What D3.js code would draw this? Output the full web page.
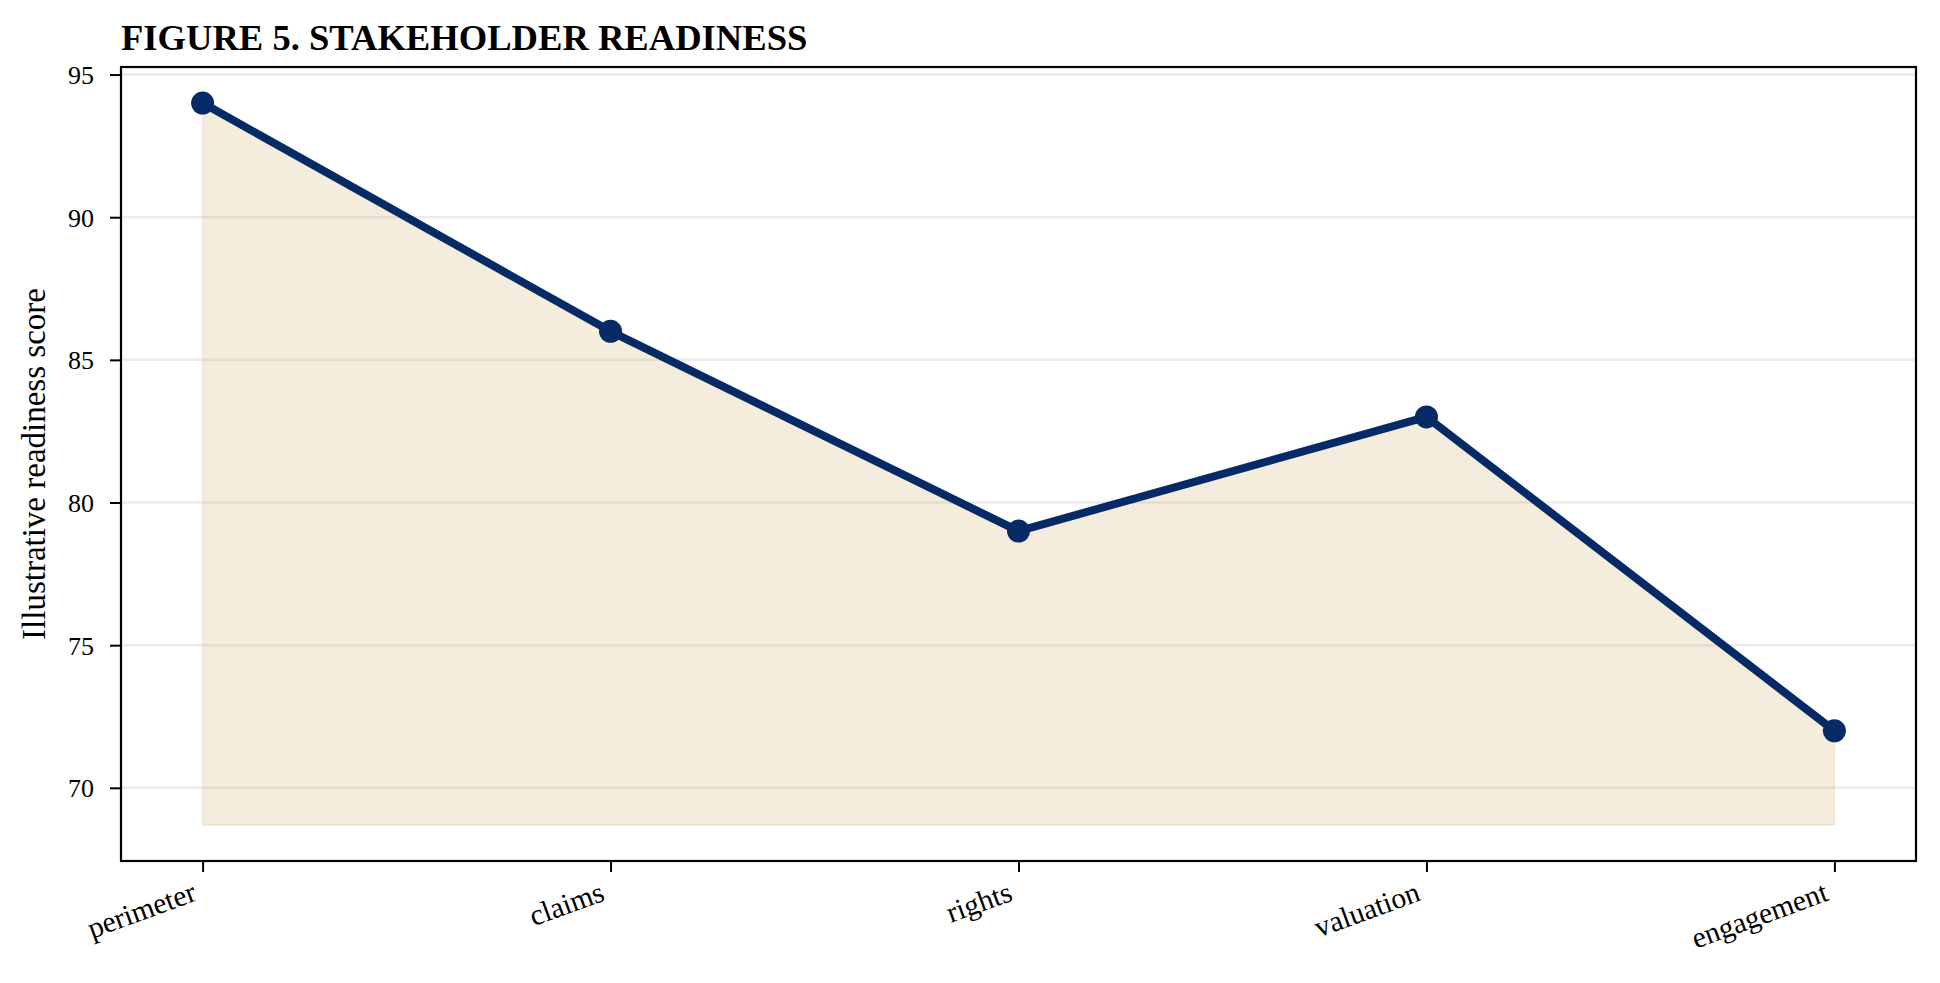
<!DOCTYPE html>
<html>
<head>
<meta charset="utf-8">
<script src="https://cdn.jsdelivr.net/npm/d3@7"></script>
<style>
  body { margin: 0; background: #ffffff; }
</style>
</head>
<body>
<svg id="chart"></svg>
<script>
// Data
const categories = ["perimeter", "claims", "rights", "valuation", "engagement"];
const scores = [94, 86, 79, 83, 72];
const yTicks = [70, 75, 80, 85, 90, 95];
const fillBase = 68.7;
const titleText = "FIGURE 5. STAKEHOLDER READINESS";
const yLabelText = "Illustrative readiness score";

// Specify the chart's dimensions.
const width = 1940;
const height = 983;
const margin = { top: 67, right: 24, bottom: 122, left: 121 };
const fontFamily = "Liberation Serif, Times New Roman, serif";

const lineColor = "#062a66";
const fillColor = "#c9a55c";

const svg = d3
  .select("#chart")
  .attr("width", width)
  .attr("height", height)
  .style("font-family", fontFamily);

// Scales (matplotlib-like margins)
const x = d3
  .scalePoint()
  .domain(categories)
  .range([margin.left, width - margin.right])
  .padding(0.2);

const yMin = fillBase;
const yMax = d3.max(scores);
const pad = (yMax - yMin) * 0.05;
const y = d3
  .scaleLinear()
  .domain([yMin - pad, yMax + pad])
  .range([height - margin.bottom, margin.top]);

// Grid lines
svg
  .append("g")
  .selectAll("line")
  .data(yTicks)
  .join("line")
  .attr("x1", margin.left)
  .attr("x2", width - margin.right)
  .attr("y1", (d) => y(d))
  .attr("y2", (d) => y(d))
  .attr("stroke", "#ebebeb")
  .attr("stroke-width", 2.5);

// Area under the line
const area = d3
  .area()
  .x((d, i) => x(categories[i]))
  .y0(y(fillBase))
  .y1((d) => y(d));

svg
  .append("path")
  .datum(scores)
  .attr("d", area)
  .attr("fill", fillColor)
  .attr("fill-opacity", 0.2)
  .attr("stroke", fillColor)
  .attr("stroke-opacity", 0.15)
  .attr("stroke-width", 2);

// Line
const line = d3
  .line()
  .x((d, i) => x(categories[i]))
  .y((d) => y(d));

svg
  .append("path")
  .datum(scores)
  .attr("d", line)
  .attr("fill", "none")
  .attr("stroke", lineColor)
  .attr("stroke-width", 8)
  .attr("stroke-linejoin", "round");

// Markers
svg
  .append("g")
  .selectAll("circle")
  .data(scores)
  .join("circle")
  .attr("cx", (d, i) => x(categories[i]))
  .attr("cy", (d) => y(d))
  .attr("r", 11.5)
  .attr("fill", lineColor);

// Axes
const yAxis = svg
  .append("g")
  .attr("transform", `translate(${margin.left},0)`)
  .call(d3.axisLeft(y).tickValues(yTicks).tickSize(11).tickPadding(16));

const xAxis = svg
  .append("g")
  .attr("transform", `translate(0,${height - margin.bottom})`)
  .call(d3.axisBottom(x).tickSize(11).tickPadding(10));

[yAxis, xAxis].forEach((ax) => {
  ax.select(".domain").remove();
  ax.selectAll(".tick line").attr("stroke", "#000").attr("stroke-width", 2);
  ax.selectAll(".tick text")
    .attr("fill", "#000")
    .style("font-family", fontFamily);
});

yAxis.selectAll(".tick text").attr("dy", "0.34em").style("font-size", "26px");

// rotated category labels
xAxis
  .selectAll(".tick text")
  .style("font-size", "29.5px")
  .attr("text-anchor", "end")
  .attr("dy", null)
  .attr("y", 0)
  .attr("transform", "translate(-5,39) rotate(-20)");

// Frame
svg
  .append("rect")
  .attr("x", margin.left)
  .attr("y", margin.top)
  .attr("width", width - margin.left - margin.right)
  .attr("height", height - margin.top - margin.bottom)
  .attr("fill", "none")
  .attr("stroke", "#000")
  .attr("stroke-width", 2.2);

// Title
svg
  .append("text")
  .attr("x", margin.left)
  .attr("y", 50)
  .style("font-size", "36.6px")
  .style("font-weight", "bold")
  .attr("fill", "#000")
  .text(titleText);

// Y label
svg
  .append("text")
  .attr("transform", `translate(45,${(margin.top + height - margin.bottom) / 2}) rotate(-90)`)
  .attr("text-anchor", "middle")
  .style("font-size", "33px")
  .attr("fill", "#000")
  .text(yLabelText);
</script>
</body>
</html>
